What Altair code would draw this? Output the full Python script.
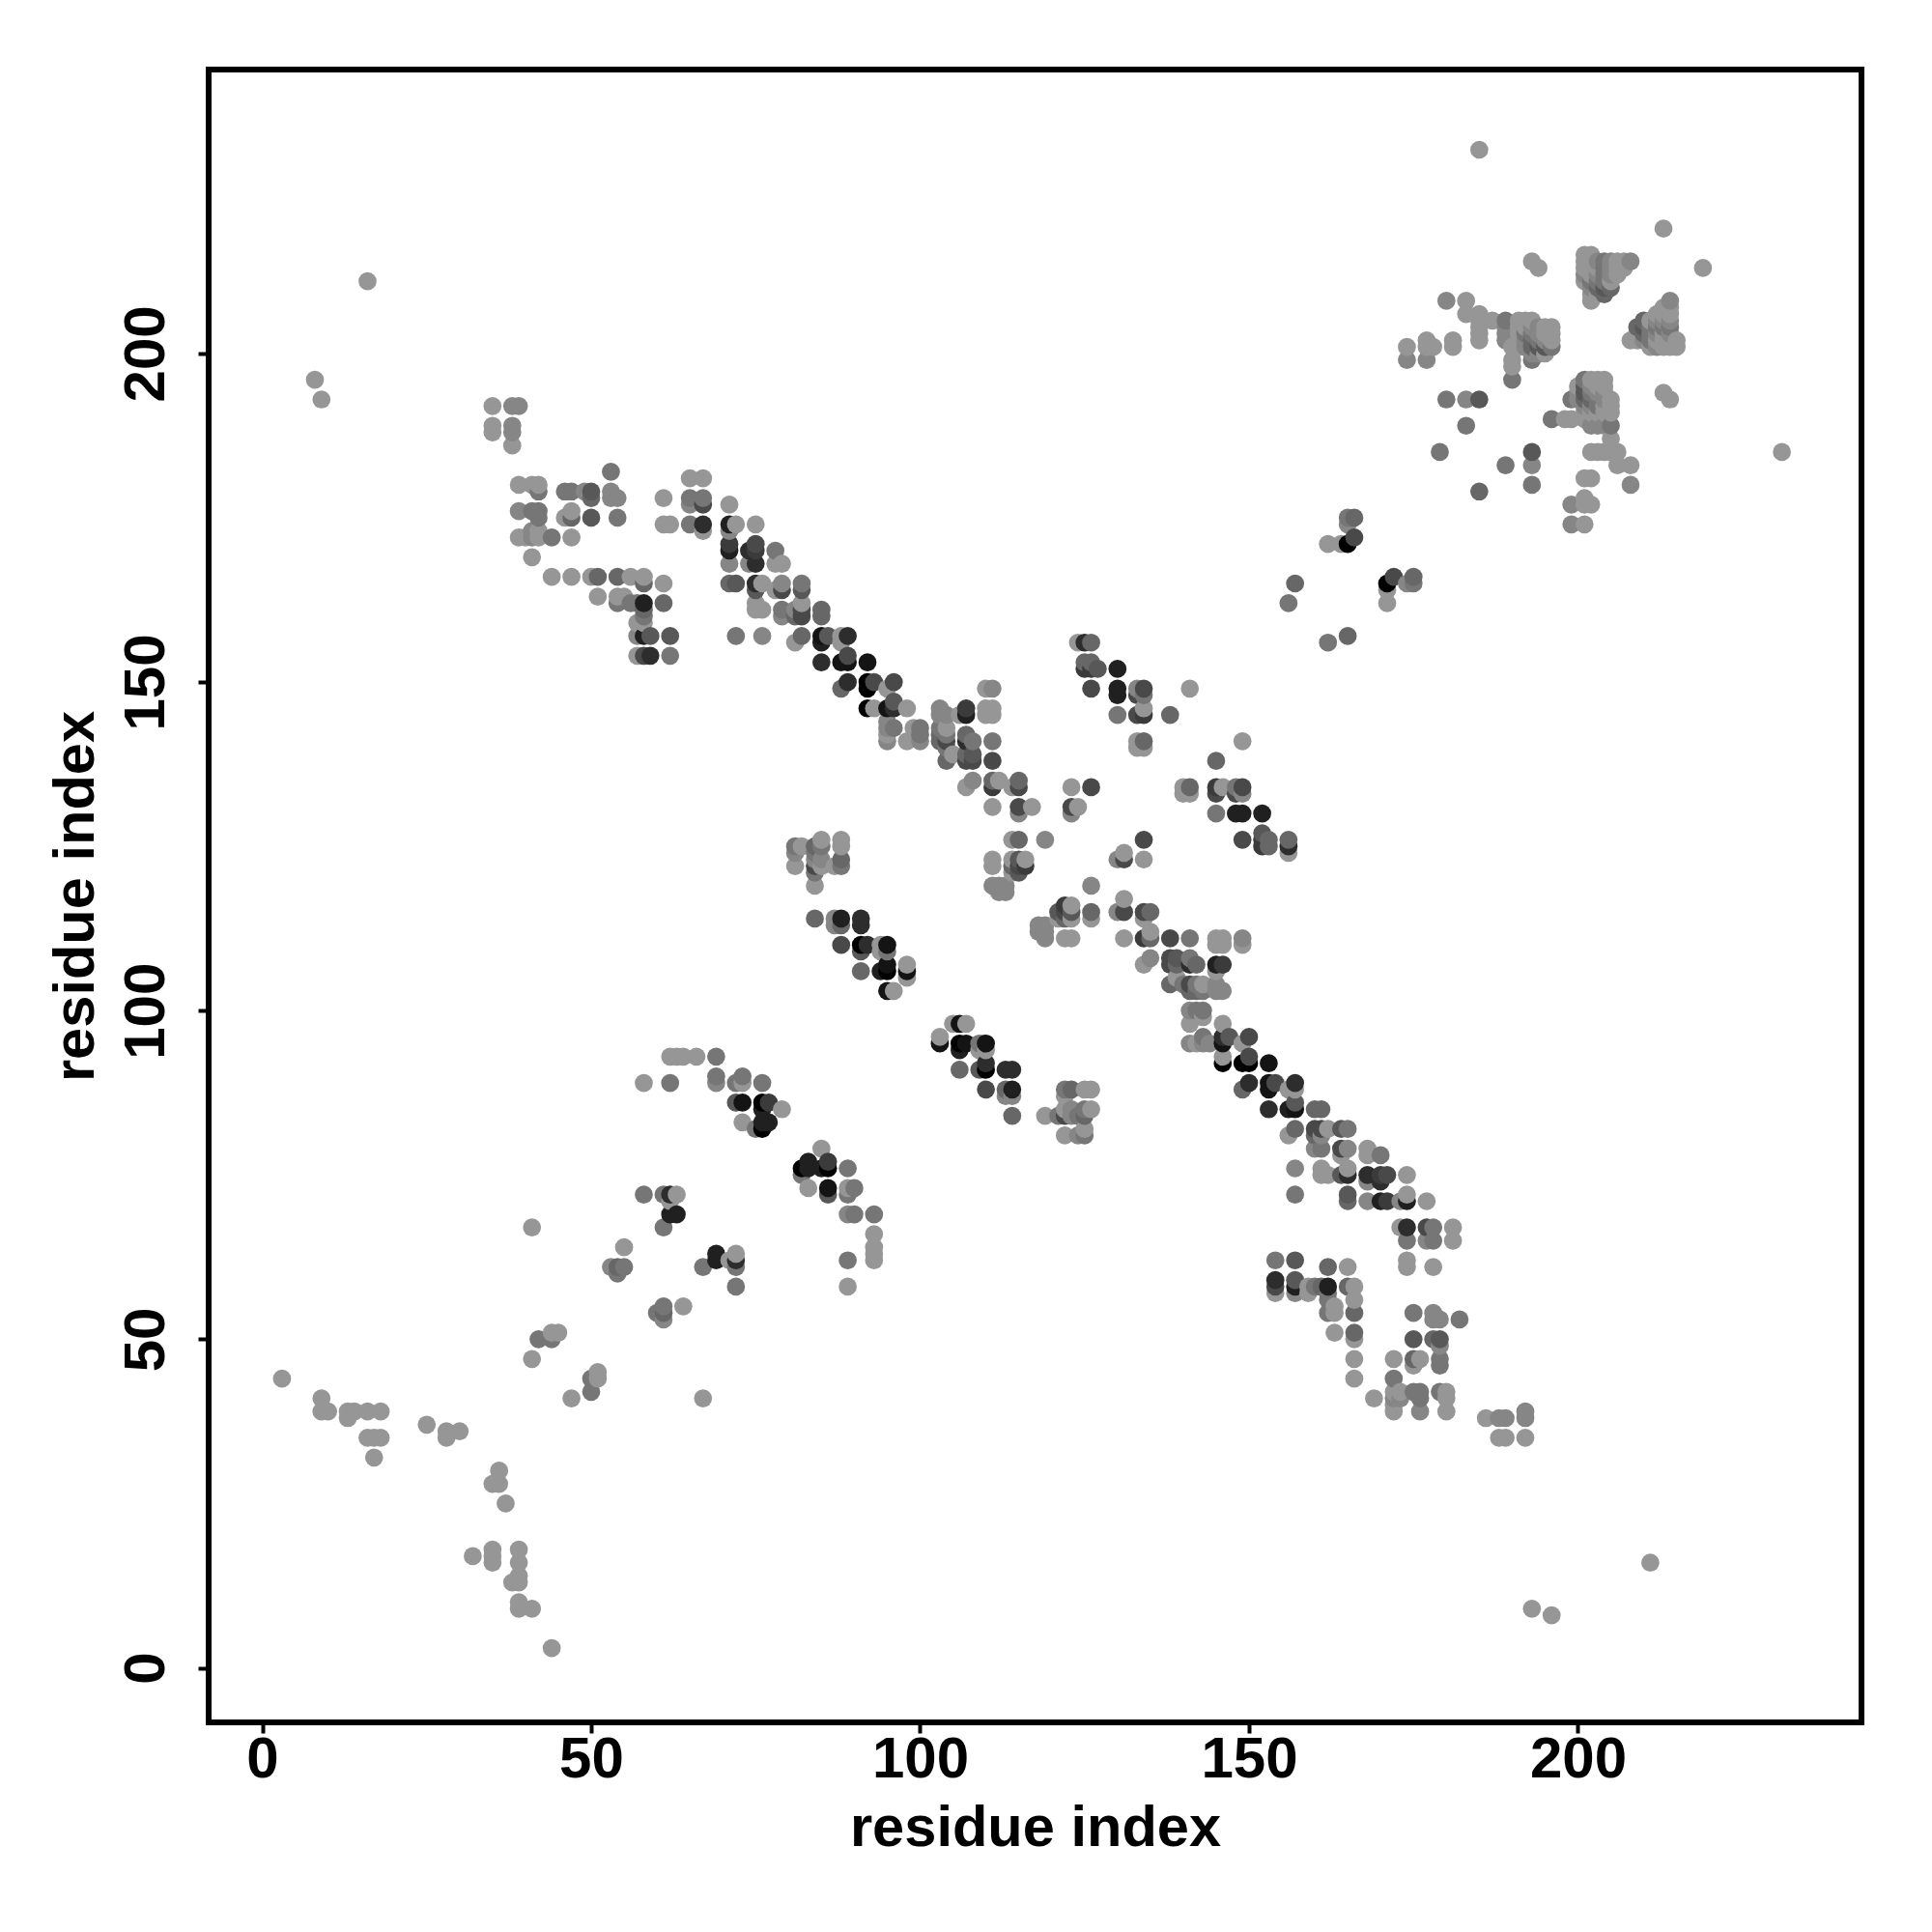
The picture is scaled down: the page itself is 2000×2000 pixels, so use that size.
import altair as alt
import pandas as pd

# contacts (i, j, score): i < j, the map shows each one mirrored
termini = [(3,44,0),(9,41,0),(9,39,0),(10,39,0),(13,39,0),(14,39,0),(13,38,0),(16,39,0),(18,39,0),
           (16,35,0),(17,35,0),(18,35,0),(17,32,0),(25,37,0),(28,36,0),(28,35,0),(30,36,0),
           (8,196,0),(9,193,0),(16,211,0),(185,231,0)]
near_50 = [(41,47,0),(42,50,2),(44,50,2),(44,51,0),(45,51,0),(41,67,0),(53,61,1),(54,61,3),(54,60,2),
           (55,61,2),(55,64,0),(58,72,2),(61,72,2),(62,72,7),(63,72,0),(62,71,0),(62,69,8),(63,69,8),(61,67,2)]
near_80 = [(58,89,0),(62,89,2),(62,93,0),(63,93,0),(64,93,0),(66,93,0),(69,93,2),(69,90,2),(69,89,1),
           (72,89,2),(73,90,2),(73,89,0),(76,89,2),(72,86,4),(73,86,9),(76,86,10),(77,86,6),(76,85,8),
           (79,85,0),(73,83,0),(75,82,2),(76,82,10),(76,83,8),(77,83,8)]
strand_a = [(84,114,3),(87,114,1),(88,114,8),(87,113,1),(88,113,3),(91,114,7),(91,113,7),(88,110,5),
            (91,110,10),(92,110,7),(91,109,4),(94,110,0),(95,110,9),(94,109,0),(95,109,2),(91,106,3),
            (94,106,8),(95,107,9),(95,106,10),(98,107,0),(98,106,9),(98,105,0),(95,103,9),(96,103,0)]
strand_b = [(81,125,2),(82,125,0),(81,124,1),(81,122,0),(84,125,3),(85,126,0),(85,125,2),(88,126,0),(88,125,0),
            (84,124,2),(84,123,1),(84,122,5),(84,121,2),(84,119,0),(85,123,1),(85,122,0),(87,122,0),
            (88,123,3),(88,122,2)]
top_left_a = [(35,192,0),(38,192,1),(39,192,1),(35,189,0),(35,188,0),(38,189,1),(38,188,1),(38,186,0)]
top_left_b = [(53,182,2),(39,180,0),(41,180,0),(42,180,0),(42,179,2),(46,179,2),(47,179,2),(49,179,1),
              (50,179,4),(50,178,3),(53,179,1),(53,178,1),(54,178,1),(39,176,1),(41,176,2),(42,176,2),
              (42,175,2),(46,175,0),(47,176,0),(47,175,3),(50,175,4),(54,175,2),(39,172,0),(40,172,0),
              (41,172,1),(42,172,0),(44,172,2),(47,172,0),(41,173,1),(42,173,0),(41,169,0)]
top_left_c = [(44,166,0),(47,166,0),(50,166,0),(51,166,3),(54,166,3),(56,166,0),(58,166,0),(58,165,3),(61,165,0),
              (51,163,0),(54,163,0),(55,163,0),(54,162,2),(56,162,2),(57,162,2),(58,162,8),(61,162,3),
              (58,161,3),(58,160,2),(57,159,0),(58,159,0),(57,157,1),(58,157,8),(59,157,4),(62,157,4),
              (57,154,0),(58,154,5),(59,154,7),(62,154,2)]
top_mid_a = [(65,181,0),(67,181,0),(61,178,0),(65,178,2),(67,178,2),(67,177,5),(65,177,1),(61,174,0),(62,174,0),
             (65,174,2),(67,174,7),(67,173,0),(71,177,0),(71,174,8),(72,174,0),(75,174,0),(71,173,1),
             (71,171,6),(71,170,8),(71,168,1),(74,170,7),(75,171,5),(75,170,6),(75,168,7),(74,168,1),
             (78,170,2),(78,168,0),(79,168,0)]
top_mid_b = [(71,165,3),(72,165,4),(75,165,7),(76,165,0),(75,164,4),(79,165,1),(79,164,5),(78,164,0),(82,165,2),
             (82,164,4),(75,162,0),(75,161,0),(76,161,0),(79,161,2),(79,160,1),(81,161,1),(82,162,0),
             (82,161,5),(82,160,5),(81,160,3),(85,161,3),(85,160,3),(72,157,2),(76,157,1),(81,156,0),
             (82,157,3),(85,157,9),(85,156,8),(86,157,4),(88,157,0),(88,156,0),(89,157,7)]
diagonal_a = [(85,153,7),(88,153,9),(89,153,9),(89,154,5),(92,153,9),(88,149,3),(89,150,7),(92,150,10),(92,149,10),
              (93,150,5),(95,149,0),(96,150,5),(92,146,10),(93,146,0),(95,146,9),(96,147,4),(96,146,7),
              (98,146,0),(95,144,1),(95,143,1),(95,142,0),(95,141,1),(96,143,2),(98,141,0),(99,143,0),
              (100,143,2),(100,142,2),(100,141,1)]
diagonal_b = [(103,146,1),(103,145,1),(104,145,1),(103,143,2),(103,142,3),(103,141,3),(104,143,0),(104,142,2),
              (104,141,5),(104,140,2),(104,138,3),(105,139,0),(106,145,0),(107,146,6),(107,145,8),(110,149,0),
              (111,149,1),(110,146,0),(111,146,0),(110,145,0),(111,145,0),(107,142,3),(107,141,7),(108,141,2),
              (107,139,3),(108,139,4),(107,138,5),(108,138,5),(111,141,2),(111,138,5),(107,134,0),(108,135,1),
              (111,135,3),(111,134,6),(112,135,0),(115,135,3),(115,134,5),(114,134,0),(111,131,0),(115,131,5),
              (115,130,1),(117,131,0)]
turn = [(114,126,0),(115,126,3),(119,126,1),(111,123,0),(111,122,0),(114,123,0),(114,122,3),(115,123,4),(116,123,0),
        (116,122,6),(115,122,5),(115,121,4),(114,121,0),(111,119,1),(112,119,1),(113,119,1),(112,118,1),(113,118,1),
        (123,134,0),(126,134,5),(123,131,5),(123,130,1),(124,131,0)]
cross_a = [(124,156,0),(125,156,7),(126,156,3),(125,153,3),(125,152,6),(126,153,3),(127,152,4),(126,152,6),(130,152,8),
           (126,149,5),(130,149,8),(130,148,8),(133,149,1),(134,149,5),(133,148,5),(134,148,2),(130,145,2),
           (133,145,5),(134,146,0),(134,145,6),(138,145,3),(141,149,0),(133,141,0),(134,141,3),(133,140,0),(134,140,0)]
cross_b = [(157,165,3),(156,162,2),(165,175,2),(166,175,3),(165,174,1),(162,171,0),(164,171,0),(165,171,10),(166,172,5)]
cluster_c = [(174,201,0),(174,199,1),(177,202,0),(177,201,0),(177,199,1),(178,201,0),(181,202,0),(181,201,0),
             (180,208,1),(183,208,0),(183,206,0),(185,206,0),(185,205,0),(185,204,0),(185,203,0),(185,202,0),
             (187,205,0),(189,205,2),(189,204,1),(189,203,1),(189,202,1),(190,201,0),(190,199,0),(190,198,0),
             (190,196,2),(193,199,2),(180,193,2),(183,193,1),(185,193,4),(183,189,2),(179,185,2),(189,183,2),
             (185,179,3),(193,185,4),(193,183,1),(193,180,2),(193,214,0),(194,213,0),(213,219,0)]
cluster_d = [(191,205,0),(191,204,0),(191,203,0),(191,202,0),(191,201,0),(192,205,0),(192,204,0),(192,203,2),
             (192,202,1),(192,201,1),(193,205,0),(193,204,1),(193,203,2),(193,202,3),(193,201,3),(193,200,1),
             (194,204,1),(194,203,1),(194,202,2),(194,201,4),(194,200,1),(195,204,0),(195,203,0),(195,202,1),
             (195,201,4),(195,200,0),(196,204,0),(196,203,0),(196,202,0),(196,201,2)]
cluster_e = [(201,215,0),(202,215,0),(201,214,0),(202,214,0),(203,214,1),(204,214,2),(205,214,1),(206,214,0),
             (207,214,0),(208,214,1),(201,213,0),(202,213,0),(203,213,0),(204,213,2),(205,213,1),(206,213,0),
             (207,213,0),(201,212,1),(202,212,0),(203,212,1),(204,212,2),(205,212,1),(206,212,0),(201,211,0),
             (202,211,2),(203,211,2),(204,211,2),(205,211,0),(202,210,1),(203,210,3),(204,210,4),(205,210,3),
             (202,209,0),(203,209,0),(204,209,3),(202,208,0)]

tick_values = [0, 50, 100, 150, 200]
axis_label = "residue index"
font = "Liberation Sans"

groups = [termini, near_50, near_80, strand_a, strand_b, top_left_a, top_left_b, top_left_c, top_mid_a,
          top_mid_b, diagonal_a, diagonal_b, turn, cross_a, cross_b, cluster_c, cluster_d, cluster_e]
rows = [row for group in groups for row in group]
upper = pd.DataFrame(rows, columns=["i", "j", "score"])
mirror = upper.rename(columns={"i": "j", "j": "i"})
df = (pd.concat([upper, mirror], ignore_index=True)
      .drop_duplicates(["i", "j"])
      .sort_values(["i", "j"])
      .reset_index(drop=True))


def make_axis(angle, label_padding, title_padding):
    return alt.Axis(values=tick_values, title=axis_label, grid=False, domain=False,
                    tickColor="black", tickWidth=4, tickSize=11, labelColor="black",
                    labelFont=font, labelFontWeight="bold", labelFontSize=60,
                    titleFont=font, titleFontWeight="bold", titleFontSize=59.6, titleColor="black",
                    labelAngle=angle, labelPadding=label_padding, titlePadding=title_padding,
                    format="d", labelFlush=False)


chart = (
    alt.Chart(df)
    .mark_circle(size=350, opacity=1)
    .encode(
        x=alt.X("i:Q", scale=alt.Scale(domain=[-8.15, 243.1], nice=False, zero=False),
                axis=make_axis(0, -2, 12)),
        y=alt.Y("j:Q", scale=alt.Scale(domain=[-8.3, 243.2], nice=False, zero=False),
                axis=make_axis(270, 23, 12)),
        color=alt.Color("score:Q", legend=None,
                        scale=alt.Scale(domain=[0, 10], range=["#969696", "#000000"])),
    )
    .properties(width=1711, height=1711, padding={"left": 40, "top": 64, "right": 10, "bottom": 10},
                background="white")
    .configure_view(stroke="black", strokeWidth=6)
)

chart.save("out.html", embed_options={"renderer": "svg", "actions": False})
